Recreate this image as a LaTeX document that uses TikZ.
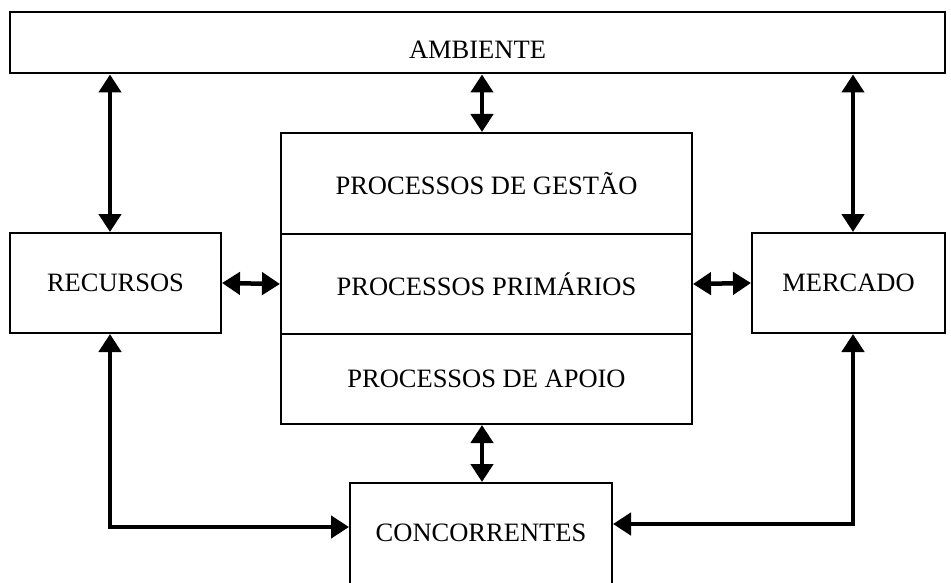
\documentclass[tikz,border=0pt]{standalone}
\usepackage{fontspec}
\setmainfont{Liberation Serif}
\usetikzlibrary{arrows.meta}

\tikzset{
  blk/.style={draw, line width=2pt, rectangle, inner sep=0pt,
    font=\fontsize{26.5}{30}\selectfont},
  dbl/.style={line width=4.5pt, {Triangle[length=18pt,width=22pt]}-{Triangle[length=18pt,width=22pt]}}
}

\begin{document}
\begin{tikzpicture}[x=1pt,y=-1pt]
\useasboundingbox (0,0) rectangle (951,583);
\node[blk, minimum width=935, minimum height=61, text height=31pt, text depth=0pt] (amb) at (477.5,43) {AMBIENTE};
\node[blk, minimum width=211, minimum height=100] (rec) at (115.5,283) {RECURSOS};
\node[blk, minimum width=193, minimum height=100] (mer) at (848.5,283) {MERCADO};
\node[blk, minimum width=411, minimum height=101] (ges) at (486.5,183.5) {PROCESSOS DE GESTÃO};
\node[blk, minimum width=411, minimum height=100] (pri) at (486.5,284) {PROCESSOS PRIMÁRIOS};
\node[blk, minimum width=411, minimum height=90] (apo) at (486.5,379) {PROCESSOS DE APOIO};
\node[blk, minimum width=262, minimum height=120, text height=18pt, text depth=22pt] (con) at (481,543) {CONCORRENTES};
\path[dbl]
([xshift=-5.5pt]rec.north) edge ([xshift=-5.5pt]rec.north |- amb.south)
([xshift=-4.5pt]ges.north) edge ([xshift=-4.5pt]ges.north |- amb.south)
([xshift=4.5pt]mer.north) edge ([xshift=4.5pt]mer.north |- amb.south)
(rec.east) edge (pri.west)
(pri.east) edge (mer.west)
([xshift=-4.5pt]apo.south) edge ([xshift=-4.5pt]apo.south |- con.north);
\draw[dbl] ([xshift=-5.5pt]rec.south) |- ([yshift=16pt]con.west);
\draw[dbl] ([xshift=4.5pt]mer.south) |- ([yshift=19pt]con.east);
\end{tikzpicture}
\end{document}
